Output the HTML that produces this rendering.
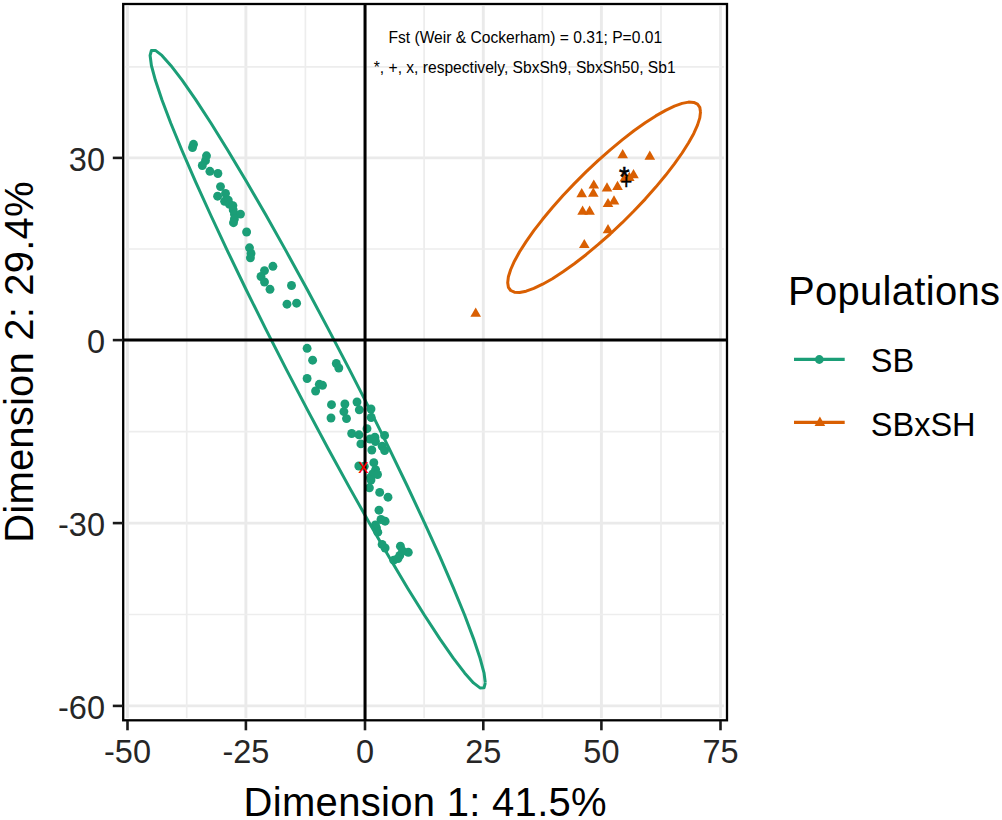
<!DOCTYPE html>
<html><head><meta charset="utf-8"><style>
html,body{margin:0;padding:0;background:#fff;}
svg{display:block;}
text{font-family:"Liberation Sans",sans-serif;}
.gM{stroke:#EAEAEA;stroke-width:2.9;}
.gm{stroke:#EDEDED;stroke-width:1.7;}
.tk{stroke:#1a1a1a;stroke-width:2.6;}
.tl{font-size:32.5px;fill:#262626;}
</style></head><body>
<svg width="1002" height="820" viewBox="0 0 1002 820">
<rect width="1002" height="820" fill="#fff"/>
<line x1="127.5" y1="6" x2="127.5" y2="718" class="gM"/><line x1="245.9" y1="6" x2="245.9" y2="718" class="gM"/><line x1="365.0" y1="6" x2="365.0" y2="718" class="gM"/><line x1="483.3" y1="6" x2="483.3" y2="718" class="gM"/><line x1="601.4" y1="6" x2="601.4" y2="718" class="gM"/><line x1="720.5" y1="6" x2="720.5" y2="718" class="gM"/><line x1="125.5" y1="157.9" x2="724" y2="157.9" class="gM"/><line x1="125.5" y1="340.1" x2="724" y2="340.1" class="gM"/><line x1="125.5" y1="523.1" x2="724" y2="523.1" class="gM"/><line x1="125.5" y1="705.9" x2="724" y2="705.9" class="gM"/><line x1="186.7" y1="6" x2="186.7" y2="718" class="gm"/><line x1="305.4" y1="6" x2="305.4" y2="718" class="gm"/><line x1="424.1" y1="6" x2="424.1" y2="718" class="gm"/><line x1="542.4" y1="6" x2="542.4" y2="718" class="gm"/><line x1="661.0" y1="6" x2="661.0" y2="718" class="gm"/><line x1="125.5" y1="614.5" x2="724" y2="614.5" class="gm"/><line x1="125.5" y1="431.6" x2="724" y2="431.6" class="gm"/><line x1="125.5" y1="249.0" x2="724" y2="249.0" class="gm"/><line x1="125.5" y1="66.8" x2="724" y2="66.8" class="gm"/>
<g fill="#1B9E77"><circle cx="193.5" cy="144.3" r="4.45"/><circle cx="192.5" cy="147.5" r="4.45"/><circle cx="206.5" cy="155.8" r="4.45"/><circle cx="205.5" cy="160.7" r="4.45"/><circle cx="202.3" cy="165.5" r="4.45"/><circle cx="209.9" cy="171.3" r="4.45"/><circle cx="217.9" cy="173.5" r="4.45"/><circle cx="220.5" cy="186.6" r="4.45"/><circle cx="217.6" cy="196.2" r="4.45"/><circle cx="225.5" cy="193.4" r="4.45"/><circle cx="224.6" cy="201.3" r="4.45"/><circle cx="228.3" cy="200.1" r="4.45"/><circle cx="229.5" cy="204.4" r="4.45"/><circle cx="232.9" cy="205.6" r="4.45"/><circle cx="233.2" cy="209.9" r="4.45"/><circle cx="234.4" cy="214.1" r="4.45"/><circle cx="240.5" cy="214.1" r="4.45"/><circle cx="234.4" cy="219" r="4.45"/><circle cx="233.5" cy="222.7" r="4.45"/><circle cx="246.6" cy="232" r="4.45"/><circle cx="249.5" cy="247.8" r="4.45"/><circle cx="251" cy="253.5" r="4.45"/><circle cx="250.4" cy="257.8" r="4.45"/><circle cx="272.9" cy="266.3" r="4.45"/><circle cx="264.5" cy="270.6" r="4.45"/><circle cx="261" cy="276.5" r="4.45"/><circle cx="264.5" cy="282" r="4.45"/><circle cx="270" cy="289.3" r="4.45"/><circle cx="291.5" cy="285.5" r="4.45"/><circle cx="287" cy="304.2" r="4.45"/><circle cx="296.6" cy="303.2" r="4.45"/><circle cx="307.1" cy="348.3" r="4.45"/><circle cx="312.6" cy="360.2" r="4.45"/><circle cx="336.3" cy="363.5" r="4.45"/><circle cx="338.8" cy="368" r="4.45"/><circle cx="307.1" cy="378.5" r="4.45"/><circle cx="319.3" cy="384.3" r="4.45"/><circle cx="322.5" cy="385.3" r="4.45"/><circle cx="315.6" cy="391" r="4.45"/><circle cx="331.5" cy="404.7" r="4.45"/><circle cx="344.9" cy="404" r="4.45"/><circle cx="343.9" cy="411.6" r="4.45"/><circle cx="346.5" cy="418.6" r="4.45"/><circle cx="331" cy="418" r="4.45"/><circle cx="357" cy="402" r="4.45"/><circle cx="359.3" cy="409.8" r="4.45"/><circle cx="371" cy="409" r="4.45"/><circle cx="371.2" cy="417.5" r="4.45"/><circle cx="367" cy="428.7" r="4.45"/><circle cx="351.7" cy="433.5" r="4.45"/><circle cx="359" cy="434.8" r="4.45"/><circle cx="370" cy="439" r="4.45"/><circle cx="374.9" cy="437.2" r="4.45"/><circle cx="375.5" cy="441.5" r="4.45"/><circle cx="360.9" cy="443.9" r="4.45"/><circle cx="384.6" cy="435.4" r="4.45"/><circle cx="382.2" cy="446.3" r="4.45"/><circle cx="384.6" cy="450.6" r="4.45"/><circle cx="371.8" cy="450" r="4.45"/><circle cx="358.8" cy="466" r="4.45"/><circle cx="373.8" cy="462.7" r="4.45"/><circle cx="375.6" cy="469.6" r="4.45"/><circle cx="372.7" cy="474" r="4.45"/><circle cx="370.5" cy="477.5" r="4.45"/><circle cx="377.5" cy="474.5" r="4.45"/><circle cx="371" cy="480" r="4.45"/><circle cx="364.3" cy="466.3" r="4.45"/><circle cx="369.4" cy="487.8" r="4.45"/><circle cx="379.7" cy="492.4" r="4.45"/><circle cx="388" cy="497.2" r="4.45"/><circle cx="379" cy="510.2" r="4.45"/><circle cx="385.1" cy="521.2" r="4.45"/><circle cx="381" cy="519.5" r="4.45"/><circle cx="376.5" cy="528" r="4.45"/><circle cx="375.4" cy="524.9" r="4.45"/><circle cx="377.8" cy="532.2" r="4.45"/><circle cx="382.1" cy="544.4" r="4.45"/><circle cx="385.1" cy="548" r="4.45"/><circle cx="400.4" cy="546.2" r="4.45"/><circle cx="408.3" cy="552.3" r="4.45"/><circle cx="399.8" cy="555.4" r="4.45"/><circle cx="393.7" cy="560.2" r="4.45"/><circle cx="398" cy="558.5" r="4.45"/><circle cx="402.5" cy="551" r="4.45"/></g>
<g fill="#D95F02"><path d="M622.7,149.0L628.0,158.2L617.4,158.2Z"/><path d="M649.8,150.5L655.1,159.7L644.5,159.7Z"/><path d="M633.5,169.0L638.8,178.2L628.2,178.2Z"/><path d="M629.3,171.8L634.6,181.0L624.0,181.0Z"/><path d="M624.8,172.3L630.1,181.5L619.5,181.5Z"/><path d="M593.8,179.4L599.1,188.6L588.5,188.6Z"/><path d="M593.3,187.5L598.6,196.7L588.0,196.7Z"/><path d="M581.7,188.0L587.0,197.2L576.4,197.2Z"/><path d="M607.0,182.2L612.3,191.4L601.7,191.4Z"/><path d="M617.5,180.8L622.8,190.0L612.2,190.0Z"/><path d="M582.6,205.6L587.9,214.8L577.3,214.8Z"/><path d="M589.6,205.6L594.9,214.8L584.3,214.8Z"/><path d="M608.0,197.9L613.3,207.1L602.7,207.1Z"/><path d="M614.0,195.2L619.3,204.4L608.7,204.4Z"/><path d="M608.0,224.0L613.3,233.2L602.7,233.2Z"/><path d="M584.3,238.9L589.6,248.1L579.0,248.1Z"/><path d="M475.7,307.5L481.0,316.7L470.4,316.7Z"/></g>
<polyline points="485.3,682.8 484.0,672.8 480.0,658.0 473.5,638.6 464.6,615.0 453.3,587.6 439.9,556.7 424.5,522.8 407.5,486.5 389.1,448.3 369.5,408.9 349.1,368.9 328.2,328.9 307.2,289.5 286.3,251.4 265.9,215.1 246.3,181.3 227.9,150.4 210.9,123.0 195.5,99.4 182.1,80.1 170.8,65.4 161.9,55.4 155.4,50.4 151.4,50.5 150.1,55.5 151.4,65.5 155.4,80.3 161.9,99.7 170.8,123.3 182.1,150.7 195.5,181.6 210.9,215.5 227.9,251.8 246.3,290.0 265.9,329.4 286.3,369.4 307.2,409.4 328.2,448.8 349.1,486.9 369.5,523.2 389.1,557.0 407.5,587.9 424.5,615.3 439.9,638.9 453.3,658.2 464.6,672.9 473.5,682.9 480.0,687.9 484.0,687.8 485.3,682.8" fill="none" stroke="#1B9E77" stroke-width="3" stroke-linejoin="round"/>
<polyline points="700.5,111.9 699.8,107.3 697.5,104.1 693.8,102.4 688.6,102.1 682.1,103.4 674.4,106.2 665.6,110.4 655.8,115.9 645.2,122.8 633.9,130.8 622.2,139.9 610.2,149.9 598.0,160.6 586.0,171.9 574.3,183.6 563.0,195.5 552.4,207.5 542.6,219.3 533.8,230.7 526.1,241.6 519.6,251.8 514.4,261.2 510.7,269.5 508.4,276.7 507.7,282.7 508.4,287.3 510.7,290.5 514.4,292.2 519.6,292.5 526.1,291.2 533.8,288.4 542.6,284.2 552.4,278.7 563.0,271.8 574.3,263.8 586.0,254.7 598.0,244.7 610.2,234.0 622.2,222.7 633.9,211.0 645.2,199.1 655.8,187.1 665.6,175.3 674.4,163.9 682.1,153.0 688.6,142.8 693.8,133.4 697.5,125.1 699.8,117.9 700.5,111.9" fill="none" stroke="#D95F02" stroke-width="3" stroke-linejoin="round"/>
<line x1="365.05" y1="5" x2="365.05" y2="720" stroke="#000" stroke-width="3"/>
<line x1="124" y1="340.1" x2="726" y2="340.1" stroke="#000" stroke-width="3"/>
<text x="363.3" y="473.1" fill="#FF0000" text-anchor="middle" style="font-size:20.5px">x</text>
<text x="624.3" y="186.0" fill="#000" stroke="#000" stroke-width="0.6" text-anchor="middle" style="font-size:27px">*</text>
<text x="626.3" y="188.7" fill="#000" stroke="#000" stroke-width="0.4" text-anchor="middle" style="font-size:20.6px">+</text>
<text x="525.3" y="43.2" fill="#000" text-anchor="middle" style="font-size:15.6px">Fst (Weir &amp; Cockerham) = 0.31; P=0.01</text>
<text x="524.7" y="72.5" fill="#000" text-anchor="middle" style="font-size:15.6px">*, +, x, respectively, SbxSh9, SbxSh50, Sb1</text>
<rect x="123.2" y="4" width="603.8" height="716.3" fill="none" stroke="#000" stroke-width="2.3"/>
<line x1="127.5" y1="721" x2="127.5" y2="730.3" class="tk"/><text x="127.5" y="763.3" class="tl" text-anchor="middle">-50</text><line x1="245.9" y1="721" x2="245.9" y2="730.3" class="tk"/><text x="245.9" y="763.3" class="tl" text-anchor="middle">-25</text><line x1="365.0" y1="721" x2="365.0" y2="730.3" class="tk"/><text x="365.0" y="763.3" class="tl" text-anchor="middle">0</text><line x1="483.3" y1="721" x2="483.3" y2="730.3" class="tk"/><text x="483.3" y="763.3" class="tl" text-anchor="middle">25</text><line x1="601.4" y1="721" x2="601.4" y2="730.3" class="tk"/><text x="601.4" y="763.3" class="tl" text-anchor="middle">50</text><line x1="720.5" y1="721" x2="720.5" y2="730.3" class="tk"/><text x="720.5" y="763.3" class="tl" text-anchor="middle">75</text><line x1="112.8" y1="157.9" x2="123" y2="157.9" class="tk"/><text x="105" y="170.5" class="tl" text-anchor="end">30</text><line x1="112.8" y1="340.1" x2="123" y2="340.1" class="tk"/><text x="105" y="352.7" class="tl" text-anchor="end">0</text><line x1="112.8" y1="523.1" x2="123" y2="523.1" class="tk"/><text x="105" y="535.7" class="tl" text-anchor="end">-30</text><line x1="112.8" y1="705.9" x2="123" y2="705.9" class="tk"/><text x="105" y="718.5" class="tl" text-anchor="end">-60</text>
<text x="425.3" y="816" fill="#000" text-anchor="middle" style="font-size:40px;letter-spacing:0.3px">Dimension 1: 41.5%</text>
<text transform="translate(33.2,362) rotate(-90)" fill="#000" text-anchor="middle" style="font-size:40px;letter-spacing:0.2px">Dimension 2: 29.4%</text>
<text x="788" y="305" fill="#000" style="font-size:40px;letter-spacing:0.3px">Populations</text>
<line x1="794" y1="359.4" x2="844.7" y2="359.4" stroke="#1B9E77" stroke-width="3.3"/>
<circle cx="819.3" cy="359.5" r="4.4" fill="#1B9E77"/>
<text x="870.8" y="372.4" fill="#000" style="font-size:32.5px">SB</text>
<line x1="794" y1="422.3" x2="844.7" y2="422.3" stroke="#D95F02" stroke-width="3.3"/>
<path d="M819.9,416.5L825.2,426L814.6,426Z" fill="#D95F02"/>
<text x="870.8" y="435.5" fill="#000" style="font-size:32.5px">SBxSH</text>
</svg>
</body></html>
